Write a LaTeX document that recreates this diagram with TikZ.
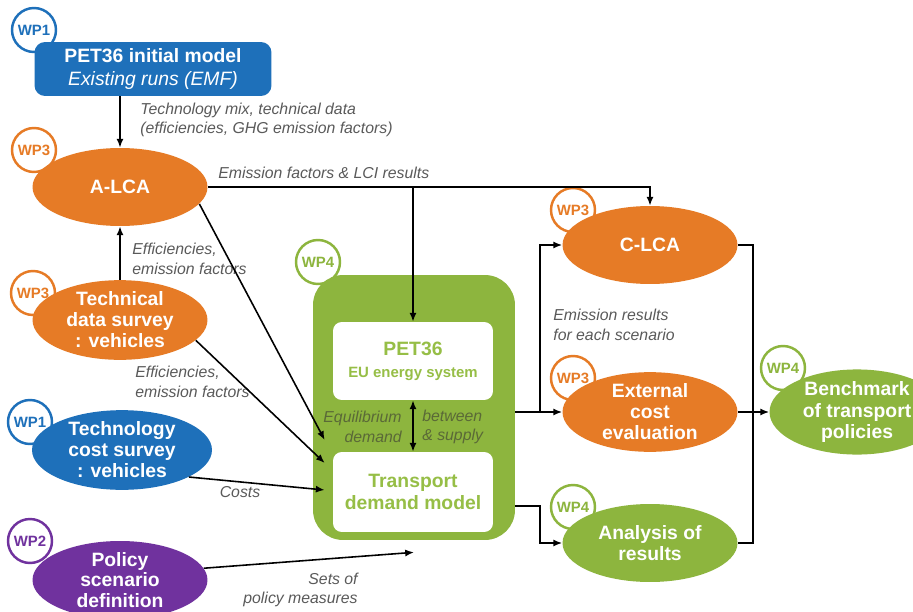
\documentclass[tikz,border=0pt]{standalone}
\usepackage{fontspec}
\setmainfont{Liberation Sans}
\usetikzlibrary{shapes.geometric,arrows.meta}

\definecolor{wpblue}{RGB}{30,112,186}
\definecolor{wporange}{RGB}{230,123,38}
\definecolor{wpgreen}{RGB}{141,181,62}
\definecolor{wppurple}{RGB}{112,50,158}
\definecolor{labelgray}{RGB}{90,90,90}
\definecolor{innergreen}{RGB}{150,190,70}
\definecolor{eqtext}{RGB}{90,105,55}

\begin{document}
\begin{tikzpicture}[x=0.02cm, y=-0.02cm,
    arr/.style={-{Latex[length=5pt,width=4pt]}, line width=0.9pt},
    dbl/.style={{Latex[length=5pt,width=4pt]}-{Latex[length=5pt,width=4pt]}, line width=0.9pt},
    link/.style={line width=0.9pt},
    task/.style={ellipse, fill=#1, text=white, inner sep=0pt, minimum width=3.5cm,
        minimum height=1.56cm, align=center, font=\fontsize{11}{12}\selectfont\bfseries},
    wp/.style={circle, draw=#1, fill=white, line width=1.4pt, minimum size=0.88cm,
        inner sep=0pt, text=#1, font=\fontsize{8.5}{9}\selectfont\bfseries},
    lbl/.style={text=labelgray, font=\fontsize{9}{11}\selectfont\itshape, inner sep=0pt},
    model/.style={rectangle, rounded corners=5pt, fill=white, text=innergreen,
        minimum width=3.2cm, align=center, font=\fontsize{11}{12.5}\selectfont\bfseries}]

    % Frame of the page
    \useasboundingbox (0,0) rectangle (913,612);
    \clip (0,0) rectangle (913,612);
    \fill[white] (0,0) rectangle (913,612);

    % Work package badges (drawn first, the boxes lie on top)
    \node[wp=wpblue]   (wpinit)  at (34,30)   {WP1};
    \node[wp=wporange] (wpalca)  at (34,150)  {WP3};
    \node[wp=wporange] (wptech)  at (33,293)  {WP3};
    \node[wp=wpblue]   (wpcost)  at (30,422)  {WP1};
    \node[wp=wppurple] (wppol)   at (30,541)  {WP2};
    \node[wp=wpgreen]  (wpeq)    at (318,262) {WP4};
    \node[wp=wporange] (wpclca)  at (573,210) {WP3};
    \node[wp=wporange] (wpext)   at (573,378) {WP3};
    \node[wp=wpgreen]  (wpana)   at (573,507) {WP4};
    \node[wp=wpgreen]  (wpbench) at (783,368) {WP4};

    % Left column
    \node[rectangle, rounded corners=6pt, fill=wpblue, text=white, minimum width=4.74cm,
        minimum height=1.08cm, align=center, font=\fontsize{11}{13}\selectfont\bfseries]
        (init) at (153,69) {PET36 initial model\\\mdseries\itshape Existing runs (EMF)};
    \node[task=wporange] (alca) at (120,187) {A-LCA};
    \node[task=wporange] (tech) at (120,320) {Technical\\data survey\\: vehicles};
    \node[task=wpblue, minimum width=3.6cm] (cost) at (122,450) {Technology\\cost survey\\: vehicles};
    \node[task=wppurple, font=\fontsize{11}{11.5}\selectfont\bfseries] (pol) at (120,580)
        {Policy\\scenario\\definition};

    % Central model block
    \node[rectangle, rounded corners=0.6cm, fill=wpgreen, minimum width=4.04cm,
        minimum height=5.3cm] (eqbox) at (414,407.5) {};
    \node[model, minimum height=1.56cm] (pet) at (413,361)
        {PET36\\{\fontsize{8.5}{10}\selectfont EU energy system}};
    \node[model, minimum height=1.6cm] (trans) at (413,492) {Transport\\demand model};

    % Right column
    \node[task=wporange] (clca)  at (650,245) {C-LCA};
    \node[task=wporange] (ext)   at (650,412) {External\\cost\\evaluation};
    \node[task=wpgreen]  (ana)   at (650,543) {Analysis of\\results};
    \node[task=wpgreen]  (bench) at (857,412) {Benchmark\\of transport\\policies};

    % Labels
    \node[lbl, anchor=west, align=left] (mixlbl) at (140,120)
        {Technology mix, technical data\\(efficiencies, GHG emission factors)};
    \node[lbl, anchor=base west] (emilbl) at (218,178) {Emission factors \& LCI results};
    \node[lbl, anchor=west, align=left] (efflbla) at (132,259) {Efficiencies,\\emission factors};
    \node[lbl, anchor=west, align=left] (efflblb) at (135,382) {Efficiencies,\\emission factors};
    \node[lbl] (costlbl) at (240,492) {Costs};
    \node[lbl, anchor=east, align=right] (setslbl) at (358,590) {Sets of\\policy measures};
    \node[lbl, anchor=west, align=left] (reslbl) at (553,325) {Emission results\\for each scenario};
    \node[lbl, text=eqtext, anchor=east, align=right] (eqlbla) at (402,427) {Equilibrium\\demand};
    \node[lbl, text=eqtext, anchor=west, align=left] (eqlblb) at (422,427) {between\\\& supply};

    % Junction points
    \coordinate (splitL) at (540,412);
    \coordinate (splitR) at (753,412);
    \coordinate (tout) at ([shift={(0,14)}]trans.east);

    % Connectors
    \draw[arr] (init.south -| alca.north) -- (alca.north);
    \draw[arr] (tech.north) -- (alca.south);
    \draw[arr] (alca.east) -| (clca.north);
    \draw[arr] (alca.east -| pet.north) -- (pet.north);
    \draw[arr] (alca.-12) -- ([shift={(-8,-52)}]trans.west);
    \draw[arr] (tech.-15) -- ([shift={(-8,-29)}]trans.west);
    \draw[arr] (cost.-22) -- ([shift={(-8,-2)}]trans.west);
    \draw[arr] (pol.8) -- ([shift={(0,12)}]eqbox.south);
    \draw[dbl] (pet.south) -- (trans.north);

    \draw[arr] (eqbox.east |- ext.west) -- (ext.west);
    \draw[arr] (splitL) |- (clca.west);
    \draw[arr] (tout -| eqbox.east) -- (tout -| splitL) |- (ana.west);
    \draw[link] (clca.east) -| (splitR) |- (ana.east);
    \draw[arr] (ext.east) -- (bench.west);
\end{tikzpicture}
\end{document}
